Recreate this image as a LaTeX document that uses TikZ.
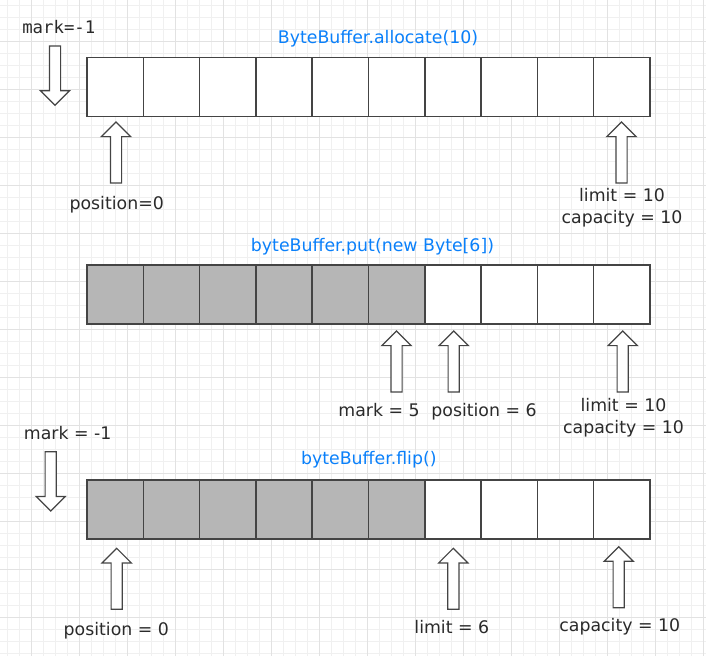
\documentclass[tikz,border=0pt]{standalone}
\usepackage{fontspec}
\setmainfont{DejaVu Sans}
\newfontfamily\monofont{DejaVu Sans Mono}
\usetikzlibrary{shapes.arrows}
\definecolor{gridminor}{HTML}{F0F0F0}
\definecolor{gridmajor}{HTML}{E2E2E2}
\definecolor{cellline}{HTML}{444444}
\definecolor{cellfill}{HTML}{B6B6B6}
\definecolor{callblue}{HTML}{0A80FA}
\definecolor{txt}{HTML}{2A2A2A}

\begin{document}
\begin{tikzpicture}[x=0.75pt,y=-0.75pt,
		cell/.style={draw=cellline,line width=1.1pt,fill=white,minimum width=42.2pt,minimum height=44.1pt,inner sep=0pt,outer sep=0pt,anchor=north west},
		used/.style={cell,fill=cellfill},
		ptr/.style={single arrow,draw=cellline,line width=0.9pt,fill=white,inner sep=3.75pt,outer sep=0pt,single arrow head extend=6.75pt,minimum height=45.75pt,anchor=tip},
		ptrup/.style={ptr,rotate=90},
		ptrdown/.style={ptr,rotate=-90,minimum height=44.5pt},
		lbl/.style={text=txt,font=\fontsize{13}{16.3}\selectfont,inner sep=0pt,anchor=base,align=center},
		call/.style={lbl,text=callblue}]
			\useasboundingbox (0,0) rectangle (706,656);
			% grid paper
			\foreach \g in {0,...,58} \draw[gridminor,line width=0.75pt] ({7.3+12*\g},0)--({7.3+12*\g},656);
			\foreach \g in {0,...,54} \draw[gridminor,line width=0.75pt] (0,{5.5+12*\g})--(706,{5.5+12*\g});
			\foreach \g in {0,...,14} \draw[gridmajor,line width=0.75pt] ({31.3+48*\g},0)--({31.3+48*\g},656);
			\foreach \g in {0,...,12} \draw[gridmajor,line width=0.75pt] (0,{41.5+48*\g})--(706,{41.5+48*\g});
			% allocate
			\node[call] (title1) at (378,43.3) {ByteBuffer.allocate(10)};
			\foreach \i in {0,...,9} \node[cell] (a\i) at ({87+56.3*\i},57.7) {};
			\node[lbl,font=\monofont\fontsize{13}{16}\selectfont] (marktxt1) at (58.8,33.3) {mark=-1};
			\node[ptrdown] (mark1) at (55,105.3) {};
			\node[ptrup] (pos1) at (116,122) {};
			\node[ptrup] (lim1) at (621.5,122) {};
			\node[lbl] (postxt1) at (116.7,209) {position=0};
			\node[lbl,anchor=center] (limtxt1) at (622,207.7) {limit = 10\\capacity = 10};
			% put
			\node[call] (title2) at (372.5,251) {byteBuffer.put(new Byte[6])};
			\foreach \i in {0,...,5} \node[used] (b\i) at ({87+56.3*\i},265) {};
			\foreach \i in {6,...,9} \node[cell] (b\i) at ({87+56.3*\i},265) {};
			\node[ptrup] (mark2) at (396.5,331) {};
			\node[ptrup] (pos2) at (453.7,331) {};
			\node[ptrup] (lim2) at (622.7,331) {};
			\node[lbl] (marktxt2) at (379,416.7) {mark = 5};
			\node[lbl] (postxt2) at (484,416.7) {position = 6};
			\node[lbl,anchor=center] (limtxt2) at (623.5,417.5) {limit = 10\\capacity = 10};
			% flip
			\node[lbl] (marktxt3) at (67.7,439.3) {mark = -1};
			\node[call] (title3) at (368.8,464) {byteBuffer.flip()};
			\foreach \i in {0,...,5} \node[used] (c\i) at ({87+56.3*\i},480) {};
			\foreach \i in {6,...,9} \node[cell] (c\i) at ({87+56.3*\i},480) {};
			\node[ptrdown] (mark3) at (50.7,511) {};
			\node[ptrup] (pos3) at (116.7,548.3) {};
			\node[ptrup] (lim3) at (453.3,548.3) {};
			\node[ptrup] (cap3) at (618.7,546.7) {};
			\node[lbl] (postxt3) at (116.3,635) {position = 0};
			\node[lbl] (limtxt3) at (451.8,633.3) {limit = 6};
			\node[lbl] (captxt3) at (619.8,631.7) {capacity = 10};
		\end{tikzpicture}
\end{document}
